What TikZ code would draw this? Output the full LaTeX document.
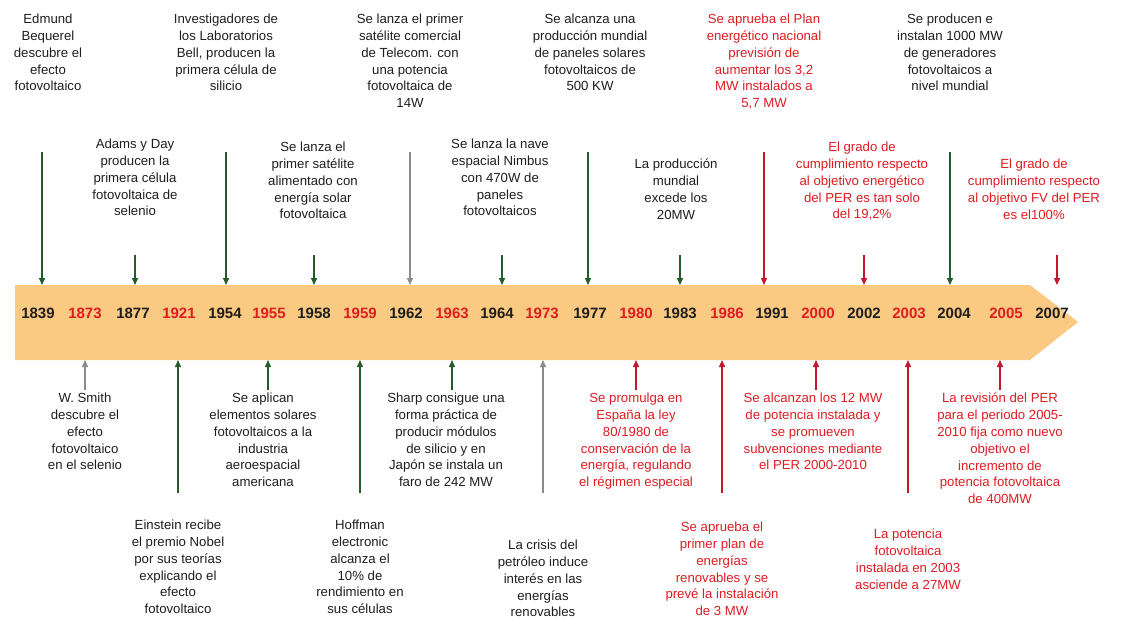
\documentclass[tikz,border=0pt]{standalone}
\usepackage{fontspec}
\setmainfont{Liberation Sans}
\usetikzlibrary{arrows.meta}
\definecolor{band}{RGB}{251,202,130}
\definecolor{dk}{RGB}{30,30,30}
\definecolor{rd}{RGB}{222,28,34}
\definecolor{grn}{RGB}{36,92,42}
\definecolor{gry}{RGB}{140,140,140}
\definecolor{ard}{RGB}{196,22,44}
\tikzset{
  txt/.style={font=\fontsize{13.2}{16.8}\selectfont, align=center, inner sep=0pt, anchor=north, text=dk},
  rtxt/.style={txt, text=rd},
  yr/.style={font=\fontsize{15}{18}\selectfont\bfseries, inner sep=0pt, text=dk},
  ryr/.style={yr, text=rd},
  arr/.style={-{Triangle[length=7pt,width=6pt]}, line width=1.4pt},
  ga/.style={arr, grn},
  gya/.style={arr, gry},
  ra/.style={arr, ard}
}
\begin{document}
\begin{tikzpicture}[x=1pt,y=-1pt]
\useasboundingbox (0,0) rectangle (1123,619);
% band
\fill[band] (15,285) -- (1030,285) -- (1078,322) -- (1030,360) -- (15,360) -- cycle;
% years
\node[yr]  (y1839) at (38,313) {1839};
\node[ryr] (y1873) at (85,313) {1873};
\node[yr]  (y1877) at (133,313) {1877};
\node[ryr] (y1921) at (179,313) {1921};
\node[yr]  (y1954) at (225,313) {1954};
\node[ryr] (y1955) at (269,313) {1955};
\node[yr]  (y1958) at (314,313) {1958};
\node[ryr] (y1959) at (360,313) {1959};
\node[yr]  (y1962) at (406,313) {1962};
\node[ryr] (y1963) at (452,313) {1963};
\node[yr]  (y1964) at (497,313) {1964};
\node[ryr] (y1973) at (542,313) {1973};
\node[yr]  (y1977) at (590,313) {1977};
\node[ryr] (y1980) at (636,313) {1980};
\node[yr]  (y1983) at (680,313) {1983};
\node[ryr] (y1986) at (727,313) {1986};
\node[yr]  (y1991) at (772,313) {1991};
\node[ryr] (y2000) at (818,313) {2000};
\node[yr]  (y2002) at (864,313) {2002};
\node[ryr] (y2003) at (909,313) {2003};
\node[yr]  (y2004) at (954,313) {2004};
\node[ryr] (y2005) at (1006,313) {2005};
\node[yr]  (y2007) at (1052,313) {2007};
% top texts
\node[txt] (t1) at (48,14) {Edmund\\Bequerel\\descubre el\\efecto\\fotovoltaico};
\node[txt] (t2) at (226,14) {Investigadores de\\los Laboratorios\\Bell, producen la\\primera célula de\\silicio};
\node[txt] (t3) at (410,14) {Se lanza el primer\\satélite comercial\\de Telecom. con\\una potencia\\fotovoltaica de\\14W};
\node[txt] (t4) at (590,14) {Se alcanza una\\producción mundial\\de paneles solares\\fotovoltaicos de\\500 KW};
\node[rtxt] (t5) at (764,14) {Se aprueba el Plan\\energético nacional\\previsión de\\aumentar los 3,2\\MW instalados a\\5,7 MW};
\node[txt] (t6) at (950,14) {Se producen e\\instalan 1000 MW\\de generadores\\fotovoltaicos a\\nivel mundial};
% middle texts
\node[txt] (m1) at (135,139) {Adams y Day\\producen la\\primera célula\\fotovoltaica de\\selenio};
\node[txt] (m2) at (313,142) {Se lanza el\\primer satélite\\alimentado con\\energía solar\\fotovoltaica};
\node[txt] (m3) at (500,139) {Se lanza la nave\\espacial Nimbus\\con 470W de\\paneles\\fotovoltaicos};
\node[txt] (m4) at (676,159) {La producción\\mundial\\excede los\\20MW};
\node[rtxt] (m5) at (862,142) {El grado de\\cumplimiento respecto\\al objetivo energético\\del PER es tan solo\\del 19,2\%};
\node[rtxt] (m6) at (1034,159) {El grado de\\cumplimiento respecto\\al objetivo FV del PER\\es el100\%};
% bottom near texts
\node[txt] (b1) at (85,393) {W. Smith\\descubre el\\efecto\\fotovoltaico\\en el selenio};
\node[txt] (b2) at (263,393) {Se aplican\\elementos solares\\fotovoltaicos a la\\industria\\aeroespacial\\americana};
\node[txt] (b3) at (446,393) {Sharp consigue una\\forma práctica de\\producir módulos\\de silicio y en\\Japón se instala un\\faro de 242 MW};
\node[rtxt] (b4) at (636,393) {Se promulga en\\España la ley\\80/1980 de\\conservación de la\\energía, regulando\\el régimen especial};
\node[rtxt] (b5) at (813,393) {Se alcanzan los 12 MW\\de potencia instalada y\\se promueven\\subvenciones mediante\\el PER 2000-2010};
\node[rtxt] (b6) at (1000,393) {La revisión del PER\\para el periodo 2005-\\2010 fija como nuevo\\objetivo el\\incremento de\\potencia fotovoltaica\\de 400MW};
% bottom far texts
\node[txt] (f1) at (178,520) {Einstein recibe\\el premio Nobel\\por sus teorías\\explicando el\\efecto\\fotovoltaico};
\node[txt] (f2) at (360,520) {Hoffman\\electronic\\alcanza el\\10\% de\\rendimiento en\\sus células};
\node[txt] (f3) at (543,540) {La crisis del\\petróleo induce\\interés en las\\energías\\renovables};
\node[rtxt] (f4) at (722,522) {Se aprueba el\\primer plan de\\energías\\renovables y se\\prevé la instalación\\de 3 MW};
\node[rtxt] (f5) at (908,529) {La potencia\\fotovoltaica\\instalada en 2003\\asciende a 27MW};
% arrow coordinates (top)
\foreach \n/\x/\s in {a1839/42/152, a1954/226/152, a1962/410/152, a1977/588/152, a1991/764/152, a2004/950/152,
                      a1877/135/255, a1958/314/255, a1964/502/255, a1983/680/255, a2002/864/255, a2007/1057/255}{
  \coordinate (\n s) at (\x,\s);
  \coordinate (\n e) at (\x,285);
}
% arrow coordinates (bottom)
\foreach \n/\x/\s in {a1873/85/390, a1955/268/390, a1963/452/390, a1980/636/390, a2000/816/390, a2005/1000/390,
                      a1921/178/493, a1959/360/493, a1973/543/493, a1986/722/493, a2003/908/493}{
  \coordinate (\n s) at (\x,\s);
  \coordinate (\n e) at (\x,360);
}
% top arrows
\draw[ga]  (a1839s) -- (a1839e);
\draw[ga]  (a1954s) -- (a1954e);
\draw[gya] (a1962s) -- (a1962e);
\draw[ga]  (a1977s) -- (a1977e);
\draw[ra]  (a1991s) -- (a1991e);
\draw[ga]  (a2004s) -- (a2004e);
\draw[ga]  (a1877s) -- (a1877e);
\draw[ga]  (a1958s) -- (a1958e);
\draw[ga]  (a1964s) -- (a1964e);
\draw[ga]  (a1983s) -- (a1983e);
\draw[ra]  (a2002s) -- (a2002e);
\draw[ra]  (a2007s) -- (a2007e);
% bottom arrows
\draw[gya] (a1873s) -- (a1873e);
\draw[ga]  (a1955s) -- (a1955e);
\draw[ga]  (a1963s) -- (a1963e);
\draw[ra]  (a1980s) -- (a1980e);
\draw[ra]  (a2000s) -- (a2000e);
\draw[ra]  (a2005s) -- (a2005e);
\draw[ga]  (a1921s) -- (a1921e);
\draw[ga]  (a1959s) -- (a1959e);
\draw[gya] (a1973s) -- (a1973e);
\draw[ra]  (a1986s) -- (a1986e);
\draw[ra]  (a2003s) -- (a2003e);
\end{tikzpicture}
\end{document}
